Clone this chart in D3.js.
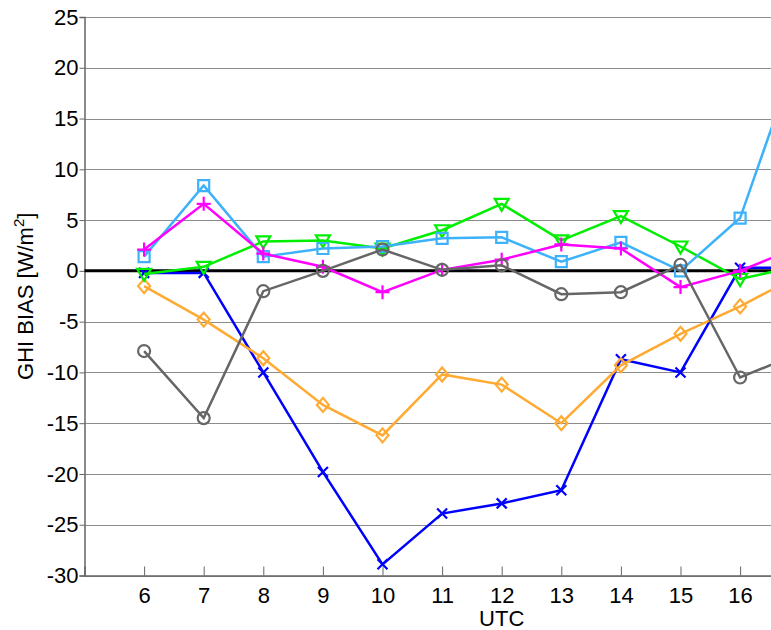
<!DOCTYPE html>
<meta charset="utf-8">
<style>
    html, body {
        margin: 0;
        padding: 0;
        background: #fff;
    }
    svg text {
        font-family: "Liberation Sans", Arial, sans-serif;
        fill: #000;
    }
</style>
<body>
<div id="chart"></div>
<script src="https://cdnjs.cloudflare.com/ajax/libs/d3/7.8.5/d3.min.js"></script>
<script>

  // hours (UTC) and bias per series
  var hours = [6, 7, 8, 9, 10, 11, 12, 13, 14, 15, 16, 17];
  var yTicks = [-30, -25, -20, -15, -10, -5, 0, 5, 10, 15, 20, 25];
  var xTicks = [6, 7, 8, 9, 10, 11, 12, 13, 14, 15, 16];

  var blueX = [-0.2, -0.2, -10.0, -19.8, -28.9, -23.9, -22.9, -21.6, -8.7, -10.0, 0.3, 0.3];
  var orangeDiamond = [-1.5, -4.8, -8.6, -13.2, -16.2, -10.2, -11.2, -15.0, -9.3, -6.2, -3.5, -0.4];
  var greenTriangle = [-0.3, 0.4, 2.9, 3.0, 2.2, 4.0, 6.6, 3.0, 5.4, 2.4, -0.8, 0.5];
  var lightBlueSquare = [1.4, 8.4, 1.4, 2.2, 2.4, 3.2, 3.3, 0.9, 2.8, 0.0, 5.2, 22.0];
  var magentaPlus = [2.1, 6.6, 1.7, 0.4, -2.1, 0.1, 1.1, 2.6, 2.2, -1.6, 0.0, 2.4];
  var grayCircle = [-7.9, -14.5, -2.0, 0.0, 2.1, 0.1, 0.55, -2.3, -2.1, 0.6, -10.5, -8.1];

  var series = [
    {values: blueX, color: "#0000ff", marker: "x"},
    {values: orangeDiamond, color: "#ffaa33", marker: "diamond"},
    {values: greenTriangle, color: "#00ee00", marker: "triangle"},
    {values: lightBlueSquare, color: "#3db2fb", marker: "square"},
    {values: magentaPlus, color: "#ff00ff", marker: "plus"},
    {values: grayCircle, color: "#666666", marker: "circle"}
  ];

  var width = 771, height = 630;
  var plotLeft = 84.5, plotTop = 17, plotBottom = 575.5;

  var x = d3.scaleLinear().domain([5, 19]).range([plotLeft, plotLeft + 14 * 59.6]);
  var y = d3.scaleLinear().domain([-30, 25]).range([plotBottom, plotTop]);

  var svg = d3.select("#chart").append("svg")
    .attr("width", width)
    .attr("height", height);

  svg.append("defs").append("clipPath")
    .attr("id", "plotClip")
    .append("rect")
    .attr("x", plotLeft)
    .attr("y", plotTop - 10)
    .attr("width", x(19) - plotLeft)
    .attr("height", plotBottom - plotTop + 20);

  // horizontal grid
  svg.append("g")
    .selectAll("line")
    .data(yTicks)
    .enter()
    .append("line")
    .attr("x1", plotLeft)
    .attr("x2", x(19))
    .attr("y1", function (d) { return Math.round(y(d)) + 0.5; })
    .attr("y2", function (d) { return Math.round(y(d)) + 0.5; })
    .attr("stroke", "#8c8c8c")
    .attr("stroke-width", 1);

  // y axis (plain hyphen for negatives, like the original)
  var yAxis = d3.axisLeft(y)
    .tickValues(yTicks)
    .tickFormat(function (d) { return String(d); })
    .tickSize(5)
    .tickPadding(1);
  var gy = svg.append("g")
    .attr("transform", "translate(" + plotLeft + ",0)")
    .call(yAxis);
  gy.select(".domain").attr("stroke", "#666").attr("stroke-width", 1.5);
  gy.selectAll(".tick line").attr("stroke", "#666");
  gy.selectAll(".tick text")
    .attr("font-size", 22)
    .attr("font-family", "Liberation Sans, Arial, sans-serif");

  // x axis, ticks pointing in
  var xAxis = d3.axisBottom(x)
    .tickValues(xTicks)
    .tickSize(-9)
    .tickPadding(12);
  var gx = svg.append("g")
    .attr("transform", "translate(0," + plotBottom + ")")
    .call(xAxis);
  gx.select(".domain").attr("stroke", "#666").attr("stroke-width", 1.5);
  gx.selectAll(".tick line").attr("stroke", "#666");
  gx.selectAll(".tick text")
    .attr("font-size", 22)
    .attr("font-family", "Liberation Sans, Arial, sans-serif");

  // zero line
  svg.append("line")
    .attr("x1", plotLeft)
    .attr("x2", x(19))
    .attr("y1", y(0))
    .attr("y2", y(0))
    .attr("stroke", "#000")
    .attr("stroke-width", 3);

  var plot = svg.append("g").attr("clip-path", "url(#plotClip)");

  var line = d3.line()
    .x(function (d) { return x(d[0]); })
    .y(function (d) { return y(d[1]); });

  function markerPath(type) {
    var s = 5.5;
    if (type === "square") return "M" + (-s) + "," + (-s) + "H" + s + "V" + s + "H" + (-s) + "Z";
    if (type === "diamond") return "M0,-7L6,0L0,7L-6,0Z";
    if (type === "triangle") return "M-7,-5L7,-5L0,7Z";
    if (type === "plus") return "M-7,0H7M0,-7V7";
    if (type === "x") return "M-5,-5L5,5M-5,5L5,-5";
    return "M6,0A6,6 0 1,1 -6,0A6,6 0 1,1 6,0Z";
  }

  series.forEach(function (s) {
    var pts = hours.map(function (h, i) { return [h, s.values[i]]; });
    plot.append("path")
      .datum(pts)
      .attr("d", line)
      .attr("fill", "none")
      .attr("stroke", s.color)
      .attr("stroke-width", 2.5);
    plot.append("g")
      .selectAll("path")
      .data(pts)
      .enter()
      .append("path")
      .attr("transform", function (d) { return "translate(" + x(d[0]) + "," + y(d[1]) + ")"; })
      .attr("d", markerPath(s.marker))
      .attr("fill", "none")
      .attr("stroke", s.color)
      .attr("stroke-width", 2.2);
  });

  // axis labels
  svg.append("text")
    .attr("x", x(12))
    .attr("y", 626)
    .attr("text-anchor", "middle")
    .attr("font-size", 22)
    .text("UTC");

  var yl = svg.append("text")
    .attr("transform", "translate(33," + ((plotTop + plotBottom) / 2) + ") rotate(-90)")
    .attr("text-anchor", "middle")
    .attr("font-size", 22);
  yl.append("tspan").text("GHI BIAS [W/m");
  yl.append("tspan").attr("font-size", 15).attr("dy", -9).text("2");
  yl.append("tspan").attr("dy", 9).text("]");
</script>
</body>
